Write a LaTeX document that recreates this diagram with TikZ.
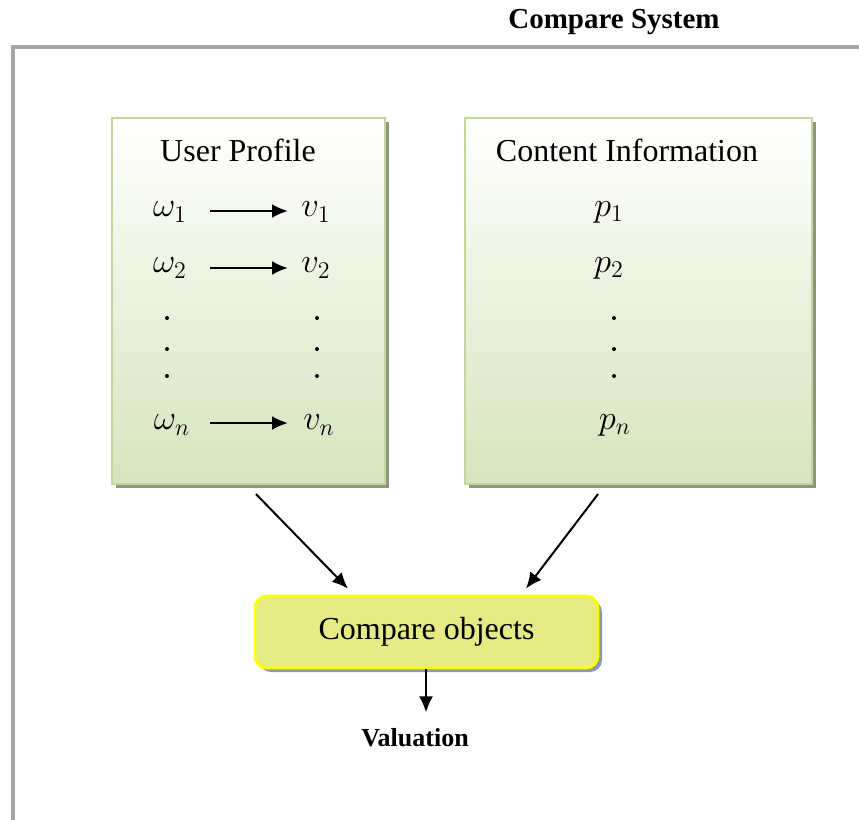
\documentclass[tikz,border=0pt]{standalone}
\usepackage{fontspec}
\setmainfont{Liberation Serif}
\usetikzlibrary{arrows.meta,shadows}
\definecolor{boxgreen}{HTML}{D7E4BD}
\definecolor{boxborder}{HTML}{C3D69B}
\definecolor{boxshadow}{HTML}{8E9680}
\definecolor{cmpfill}{HTML}{E6EA85}
\definecolor{cmpborder}{HTML}{FFFF00}
\definecolor{cmpshadow}{HTML}{8A9AA6}
\definecolor{framegray}{HTML}{A6A6A6}
\begin{document}
\begin{tikzpicture}[x=0.5pt,y=-0.5pt,
  panel/.style={draw=boxborder, line width=1.1pt, top color=white, bottom color=boxgreen,
    shading angle=0, inner sep=0pt,
    drop shadow={shadow xshift=2pt, shadow yshift=-2pt, fill=boxshadow, opacity=1}},
  cmpbox/.style={draw=cmpborder, line width=1.4pt, fill=cmpfill, rounded corners=6pt,
    minimum width=171.5pt, minimum height=36pt, inner sep=0pt,
    drop shadow={shadow xshift=2pt, shadow yshift=-2pt, fill=cmpshadow, opacity=1}},
  lbl/.style={font=\fontsize{16}{19}\selectfont, inner sep=1pt},
  mth/.style={font=\fontsize{17}{20}\selectfont, inner sep=1pt},
  dot/.style={circle, fill=black, inner sep=0pt, minimum size=2pt},
  uarr/.style={-{Latex[length=8pt,width=7pt]}, line width=1.2pt},
  barr/.style={-{Latex[length=8pt,width=7pt]}, line width=1pt}]
\useasboundingbox (0,0) rectangle (859,820);
\fill[white] (0,0) rectangle (859,820);

% title and outer frame
\node[font=\bfseries\fontsize{14.5}{17}\selectfont] (title) at (614,22) {Compare System};
\draw[framegray, line width=1.6pt] (13,820) -- (13,47) -- (859,47);

% panels
\node[panel, minimum width=136.5pt, minimum height=183pt] (up) at (248.5,301) {};
\node[panel, minimum width=173.5pt, minimum height=183pt] (ci) at (638.5,301) {};

\node[lbl] (uptitle) at (238,150) {User Profile};
\node[lbl] (cititle) at (627,150) {Content Information};

% user profile rows
\node[mth] (w1) at (170,212) {$\omega_1$};
\node[mth] (v1) at (316,212) {$v_1$};
\node[mth] (w2) at (170,268) {$\omega_2$};
\node[mth] (v2) at (316,268) {$v_2$};
\node[mth] (wn) at (172,425) {$\omega_n$};
\node[mth] (vn) at (319,425) {$v_n$};
\coordinate (a1s) at (210,211); \coordinate (a1e) at (288,211);
\coordinate (a2s) at (210,268); \coordinate (a2e) at (288,268);
\coordinate (ans) at (210,423); \coordinate (ane) at (288,423);
\draw[uarr] (a1s) -- (a1e);
\draw[uarr] (a2s) -- (a2e);
\draw[uarr] (ans) -- (ane);
\node[dot] (dl1) at (167,318) {};
\node[dot] (dl2) at (167,349) {};
\node[dot] (dl3) at (167,376) {};
\node[dot] (dr1) at (317,318) {};
\node[dot] (dr2) at (317,349) {};
\node[dot] (dr3) at (317,376) {};

% content rows
\node[mth] (p1) at (609,212) {$p_1$};
\node[mth] (p2) at (609,268) {$p_2$};
\node[mth] (pn) at (615,425) {$p_n$};
\node[dot] (dc1) at (614,318) {};
\node[dot] (dc2) at (614,349) {};
\node[dot] (dc3) at (614,376) {};

% compare box
\node[cmpbox, font=\fontsize{16}{19}\selectfont] (cmp) at (426.5,632) {Compare objects};

\draw[barr] ([xshift=3.75pt,yshift=-4.5pt]up.south) -- ([xshift=-39.25pt,yshift=3pt]cmp.north);
\draw[barr] ([xshift=-20.25pt,yshift=-4.5pt]ci.south) -- ([xshift=49.75pt,yshift=3pt]cmp.north);

\node[font=\bfseries\fontsize{13}{15}\selectfont] (val) at (415,738) {Valuation};
\draw[barr] ([xshift=-0.25pt]cmp.south) -- ([xshift=-0.25pt,yshift=-21.5pt]cmp.south);
\end{tikzpicture}
\end{document}
